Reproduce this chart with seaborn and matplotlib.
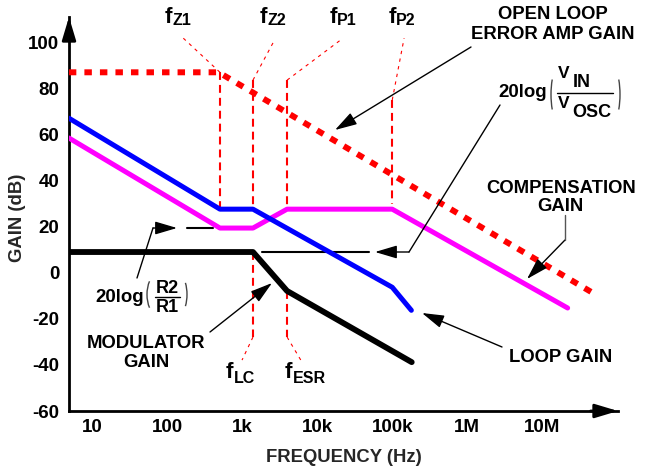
import numpy as np
import pandas as pd
import seaborn as sns
import matplotlib
matplotlib.use("Agg")
import matplotlib.pyplot as plt
from matplotlib.lines import Line2D
from matplotlib.patches import Arc
from matplotlib.transforms import IdentityTransform

# ---------------- data ----------------
err_freq = [4.8, 480, 4.8e7]                      # open loop error amp gain
err_gain = [87.0, 87.0, -8.8]
loop_freq = [4.8, 500, 1380, 1.0e5, 1.8e5]        # loop gain
loop_gain = [67.1, 27.6, 27.6, -6.3, -16.3]
comp_freq = [4.8, 500, 1380, 3940, 1.0e5, 2.2e7]  # compensation gain
comp_gain = [58.5, 19.4, 19.4, 27.6, 27.6, -15.3]
mod_freq = [4.8, 1380, 3940, 1.82e5]              # modulator gain
mod_gain = [9.0, 9.0, -7.9, -38.8]

# corner frequencies (fZ1, fZ2/fLC, fP1/fESR, fP2)
f_z1, f_z2, f_p1, f_p2 = 500, 1380, 3940, 1.0e5
vin_vosc_db = 9.0      # 20log(VIN/VOSC)
r2_r1_db = 19.4        # 20log(R2/R1)

x_ticks = [10, 100, 1e3, 1e4, 1e5, 1e6, 1e7]
x_ticklabels = ["10", "100", "1k", "10k", "100k", "1M", "10M"]
y_ticks = [-60, -40, -20, 0, 20, 40, 60, 80, 100]
y_ticklabels = ["-60", "-40", "-20", "0", "20", "40", "60", "80", "100"]

# ---------------- style ----------------
sns.set_theme(style="white")
plt.rcParams["font.family"] = ["Liberation Sans", "DejaVu Sans"]
plt.rcParams["font.weight"] = "bold"

W, H = 650, 468
fig = plt.figure(figsize=(W / 100, H / 100), dpi=100)
ax = fig.add_axes([69 / W, (H - 411) / H, (618 - 69) / W, (411 - 17) / H])
ax.set_xscale("log")

RED, BLUE, MAG = "#ff0000", "#0000ff", "#ff00ff"

def curve(fr, g, **kw):
    df = pd.DataFrame({"freq": fr, "gain": g})
    sns.lineplot(data=df, x="freq", y="gain", ax=ax, sort=False,
                 estimator=None, **kw)

# thin red dashed corner markers
vdash = dict(color=RED, lw=1.5, ls=(0, (3.8, 2.4)), zorder=1)
dot = dict(color=RED, lw=0.8, ls=(0, (3, 4)), zorder=1)
ax.plot([f_z1, f_z1], [err_gain[0], loop_gain[1]], **vdash)
ax.plot([f_z2, f_z2], [83.6, loop_gain[2]], **vdash)
ax.plot([f_p1, f_p1], [83.6, comp_gain[3]], **vdash)
ax.plot([f_p2, f_p2], [75.0, 30.0], **vdash)
ax.plot([f_z2, f_z2], [mod_gain[1], -27.9], **vdash)
ax.plot([f_p1, f_p1], [mod_gain[2], -27.9], **vdash)
ax.plot([f_z1, 156], [err_gain[0], 102.3], **dot)
ax.plot([f_z2, 2720], [83.6, 101.4], **dot)
ax.plot([f_p1, 22000], [83.6, 101.8], **dot)
ax.plot([f_p2, 1.44e5], [75.0, 101.8], **dot)
ax.plot([f_z2, 986], [-27.9, -37.9], **dot)
ax.plot([f_p1, 6240], [-27.9, -38.8], **dot)

# level lines
ax.plot([1820, 49000], [vin_vosc_db, vin_vosc_db], color="black", lw=1.5, zorder=2)
ax.plot([182, 405], [r2_r1_db, r2_r1_db], color="black", lw=1.5, zorder=2)

# main curves
curve(comp_freq, comp_gain, color=MAG, lw=3.6, zorder=3)
curve(loop_freq, loop_gain, color=BLUE, lw=3.6, zorder=4)
curve(mod_freq, mod_gain, color="black", lw=4.2, zorder=4)
curve(err_freq, err_gain, color=RED, lw=4.3, linestyle=(0, (1.25, 1.35)), zorder=5)

ax.set_xlim(4.82, 1.035e8)
ax.set_ylim(-60, 111)
ax.minorticks_off()
ax.set_xticks(x_ticks)
ax.set_xticklabels(x_ticklabels)
ax.set_yticks(y_ticks)
ax.set_yticklabels(y_ticklabels)
ax.tick_params(axis="both", direction="in", length=13, width=1.6,
               labelsize=13.5, color="black", labelcolor="black")
ax.tick_params(axis="x", pad=6)
ax.tick_params(axis="y", pad=7)
for t in ax.yaxis.get_major_ticks():
    if t.get_loc() in (-60, 100):
        t.tick1line.set_visible(False)
for lab in ax.get_xticklabels() + ax.get_yticklabels():
    lab.set_fontweight("bold")

for s in ("top", "right"):
    ax.spines[s].set_visible(False)
for s in ("left", "bottom"):
    ax.spines[s].set_linewidth(2.0)
    ax.spines[s].set_color("black")
ax.set_facecolor("white")
ax.grid(False)

ax.set_xlabel("FREQUENCY (Hz)", fontsize=13.3, fontweight="bold")
ax.set_ylabel("GAIN (dB)", fontsize=13.3, fontweight="bold")
ax.xaxis.set_label_coords((344 - 69) / 549, (411 - 457) / 394)
ax.yaxis.set_label_coords((18 - 69) / 549, (411 - 218) / 394)
ax.xaxis.label.set_va("center")
ax.yaxis.label.set_va("center")

# axis arrowheads
ahead = dict(arrowstyle="-|>,head_length=1.4,head_width=0.42", color="black",
             lw=2, shrinkA=0, shrinkB=0, mutation_scale=10)
ax.annotate("", xy=(1, 0), xytext=(0.95, 0), xycoords="axes fraction",
            arrowprops=ahead, annotation_clip=False)
ax.annotate("", xy=(0, 1), xytext=(0, 0.94), xycoords="axes fraction",
            arrowprops=ahead, annotation_clip=False)

# ---------------- annotations (reference pixel positions) ----------------
def P(x, y):
    return (x / W, 1 - y / H)

def T(x, y, s, size=13.3, ha="left", **kw):
    fx, fy = P(x, y)
    fig.text(fx, fy, s, fontsize=size, ha=ha, va="baseline",
             fontweight="bold", color="black", **kw)

def L(xs, ys, lw=1.0, color="black"):
    fig.add_artist(Line2D([x / W for x in xs], [1 - y / H for y in ys],
                          transform=fig.transFigure, lw=lw, color=color))

def ARROW(x0, y0, x1, y1):
    fig.add_artist(matplotlib.patches.FancyArrowPatch(
        (x0, H - y0), (x1, H - y1), transform=IdentityTransform(),
        arrowstyle="-|>,head_length=1.35,head_width=0.4", mutation_scale=10,
        color="black", lw=1.0, shrinkA=0, shrinkB=0))

def PAREN(x_outer, x_end, ytop, ybot, left=True):
    half = (ybot - ytop) / 2
    cy = H - (ytop + ybot) / 2
    a = 12.0
    if left:
        cx = x_outer + a
        ca = (cx - x_end) / a
    else:
        cx = x_outer - a
        ca = (x_end - cx) / a
    alpha = np.degrees(np.arccos(ca))
    b = half / np.sin(np.radians(alpha))
    if left:
        t1, t2 = 180 - alpha, 180 + alpha
    else:
        t1, t2 = -alpha, alpha
    fig.add_artist(Arc((cx, cy), 2 * a, 2 * b, theta1=t1, theta2=t2,
                       transform=IdentityTransform(), lw=1.0, color="#444444"))

# corner-frequency labels
for fx, sx, sub, by, sby in [(165, 172, "Z1", 23, 25), (260, 267, "Z2", 23, 25),
                              (330, 337, "P1", 23, 25), (389, 396, "P2", 23, 25),
                              (226, 234, "LC", 378, 383), (285, 293, "ESR", 378, 383)]:
    T(fx, by, "f", size=16)
    T(sx, sby, sub, size=11.5)

T(553, 19, "OPEN LOOP", ha="center")
T(553, 39, "ERROR AMP GAIN", ha="center")
T(561, 193, "COMPENSATION", ha="center")
T(560, 211, "GAIN", ha="center")
T(561, 362, "LOOP GAIN", ha="center")
T(146, 348, "MODULATOR", ha="center")
T(146, 367, "GAIN", ha="center")

# 20log(R2/R1)
T(95, 302, "20log", size=13.4)
T(167.5, 293, "R2", size=13, ha="center")
T(167.5, 312, "R1", size=13, ha="center")
L([155, 180], [297, 297], lw=1.0)
PAREN(147, 152, 277, 312, left=True)
PAREN(187, 183, 277, 312, left=False)

# 20log(VIN/VOSC)
T(498, 97, "20log", size=13.4)
T(558, 78, "V", size=12.5)
T(573, 87, "IN", size=13)
T(558, 108, "V", size=12.5)
T(572, 117, "OSC", size=13)
L([557, 613], [93, 93], lw=1.0)
PAREN(551, 556, 67, 122, left=True)
PAREN(620, 615, 67, 122, left=False)

# leader arrows
ARROW(471, 47, 335, 130)                 # open loop error amp gain
L([500, 409], [105, 252]); ARROW(409, 252, 375, 252)   # 20log(VIN/VOSC)
L([565, 565], [215, 240], color="#555555"); ARROW(565, 240, 527, 279)  # compensation
ARROW(502, 347, 422, 313)                # loop gain
ARROW(210, 332, 272, 283)                # modulator gain
L([137, 153], [278, 228]); ARROW(153, 228, 177, 228)   # 20log(R2/R1)

fig.savefig("out.png", dpi=100, facecolor="white")
